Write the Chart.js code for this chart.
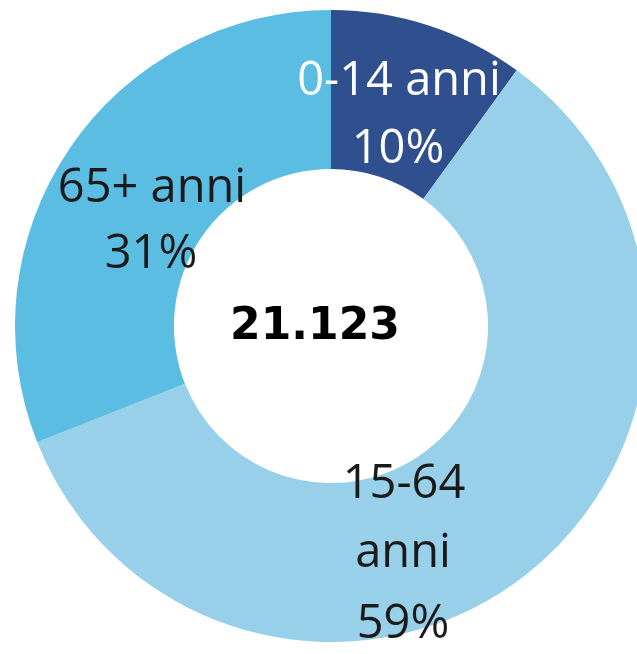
<!DOCTYPE html>
<html>
<head>
<meta charset="utf-8">
<script src="https://cdn.jsdelivr.net/npm/chart.js@4/dist/chart.umd.min.js"></script>
<style>
  html, body { margin: 0; padding: 0; background: #ffffff; overflow: hidden; }
  #wrap { position: absolute; left: 15px; top: 10px; width: 632px; height: 632px; }
</style>
</head>
<body>
<div id="wrap"><canvas id="popChart" width="632" height="632"></canvas></div>
<script>
// age groups, share of population (%)
const ageGroups = ["0-14 anni", "15-64 anni", "65+ anni"];
const shares = [10, 59, 31];
const labelLines = [
  ["0-14 anni", "10%"],
  ["15-64", "anni", "59%"],
  ["65+ anni", "31%"]
];
const totalLabel = "21.123";

const sliceColors = ["#2f4f8f", "#98d0ea", "#5cbde3"];
const textColors = ["#ffffff", "#1a1a1a", "#1a1a1a"];

// offsets of each text line from the chart centre (px)
const lineOffsets = [
  [[68, -231], [67, -163]],
  [[73, 172], [72, 241], [72, 312]],
  [[-179, -124], [-180, -58]]
];

const sliceText = {
  id: "sliceText",
  afterDraw(chart) {
    const ctx = chart.ctx;
    const arc = chart.getDatasetMeta(0).data[0];
    const cx = arc.x, cy = arc.y;
    ctx.save();
    ctx.textAlign = "center";
    ctx.textBaseline = "alphabetic";
    ctx.font = "47px 'Open Sans'";
    labelLines.forEach((lines, i) => {
      ctx.fillStyle = textColors[i];
      lines.forEach((t, j) => {
        ctx.fillText(t, cx + lineOffsets[i][j][0], cy + lineOffsets[i][j][1]);
      });
    });
    // total in the hole
    ctx.font = "bold 44px 'DejaVu Sans'";
    ctx.fillStyle = "#000000";
    ctx.fillText(totalLabel, cx - 16, cy + 13);
    ctx.restore();
  }
};

new Chart(document.getElementById("popChart").getContext("2d"), {
  type: "doughnut",
  data: {
    labels: ageGroups,
    datasets: [{
      data: shares,
      backgroundColor: sliceColors,
      borderWidth: 0
    }]
  },
  options: {
    responsive: false,
    animation: false,
    cutout: "49.7%",
    layout: { padding: 0 },
    plugins: {
      legend: { display: false },
      tooltip: { enabled: false }
    }
  },
  plugins: [sliceText]
});
</script>
</body>
</html>
